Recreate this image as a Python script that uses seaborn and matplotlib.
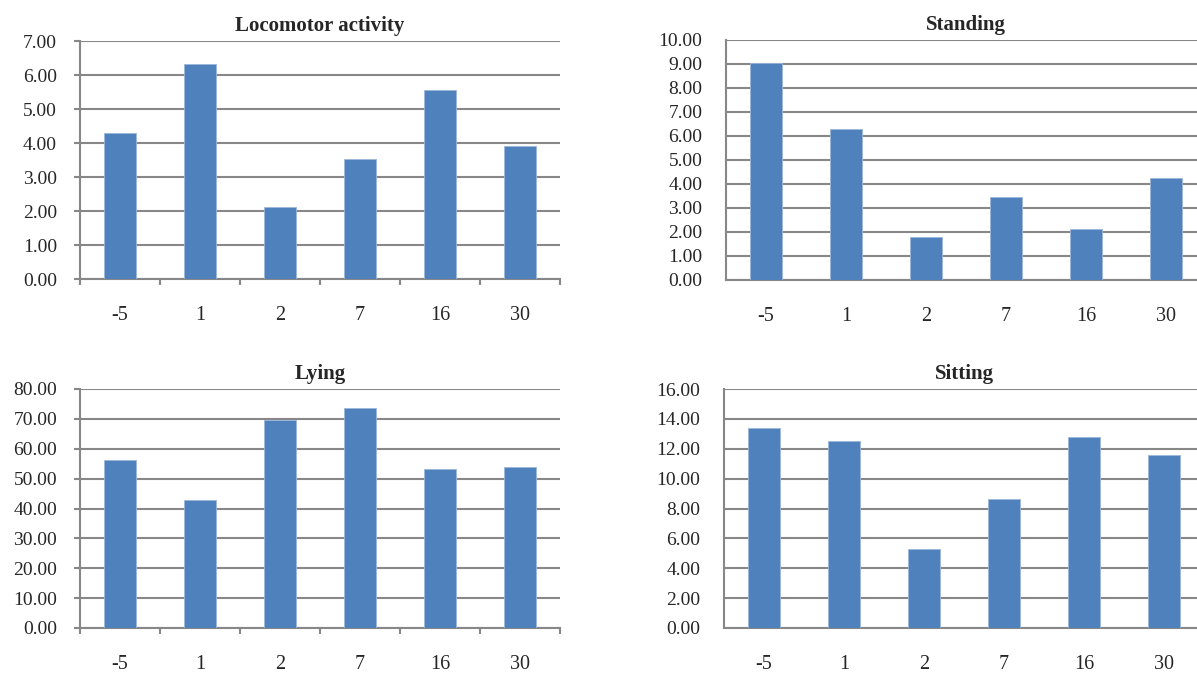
import numpy as np
import pandas as pd
import matplotlib
matplotlib.use('Agg')
import matplotlib.pyplot as plt
import seaborn as sns

days = ['-5', '1', '2', '7', '16', '30']
locomotor = [4.28, 6.33, 2.13, 3.52, 5.57, 3.90]
standing = [9.04, 6.28, 1.80, 3.45, 2.12, 4.26]
lying = [56.2, 42.7, 69.6, 73.7, 53.1, 53.9]
sitting = [13.41, 12.52, 5.31, 8.64, 12.79, 11.61]

sns.set_style('white')
plt.rcParams['font.family'] = ['Liberation Serif', 'DejaVu Serif']
plt.rcParams['font.size'] = 14

BLUE = '#4F81BD'
GRID = '#878787'
W, H = 1197, 674

fig = plt.figure(figsize=(W / 100, H / 100), dpi=100)

def box(left, top, right, bottom):
    return [left / W, 1 - bottom / H, (right - left) / W, (bottom - top) / H]

panels = [
    ('Locomotor activity', locomotor, 7, 1, box(80, 41, 560, 279), True),
    ('Standing', standing, 10, 1, box(726, 40, 1206, 280), False),
    ('Lying', lying, 80, 10, box(80, 389, 560, 628), True),
    ('Sitting', sitting, 16, 2, box(724, 389, 1204, 628), False),
]

for title, vals, ymax, step, pos, left_style in panels:
    ax = fig.add_axes(pos)
    df = pd.DataFrame({'day': days, 'value': vals})
    sns.barplot(data=df, x='day', y='value', order=days, color=BLUE,
                width=0.41, saturation=1, edgecolor='#9DB7DA', linewidth=0.6,
                ax=ax, zorder=3)
    ax.set_ylim(0, ymax)
    ax.set_xlim(-0.5, 5.5)
    ticks = np.arange(0, ymax + step / 2, step)
    ax.set_yticks(ticks)
    ax.set_yticklabels([f'{v:.2f}' for v in ticks])
    ax.set(xlabel='', ylabel='')
    ax.grid(axis='y', color=GRID, linewidth=1.5, zorder=0)
    ax.set_axisbelow(True)
    for s in ['top', 'right']:
        ax.spines[s].set_visible(False)
    for s in ['left', 'bottom']:
        ax.spines[s].set_color(GRID)
        ax.spines[s].set_linewidth(1.5)
    ax.tick_params(axis='x', which='major', length=0, pad=19.5, labelsize=14.5)
    if left_style:
        ax.set_xticks(np.arange(-0.5, 6, 1), minor=True)
        ax.tick_params(axis='x', which='minor', length=4, width=1.5,
                       color=GRID, direction='out', bottom=True)
        ax.tick_params(axis='y', length=4.5, width=1.5, color=GRID,
                       pad=12, labelsize=14, left=True)
    else:
        ax.tick_params(axis='y', length=0, pad=17, labelsize=14)
    ax.set_title(title, fontweight='bold', fontsize=15, pad=7)

plt.savefig('out.png', dpi=100)
